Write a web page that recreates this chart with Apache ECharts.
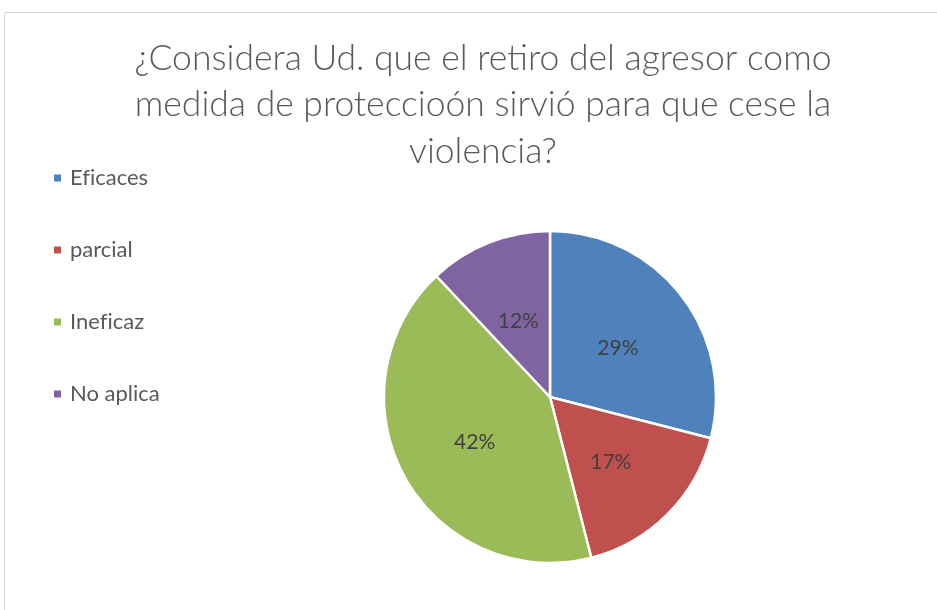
<!DOCTYPE html>
<html>
<head>
<meta charset="utf-8">
<script src="https://cdn.jsdelivr.net/npm/echarts@6/dist/echarts.min.js"></script>
<style>
  html, body { margin: 0; padding: 0; background: #fff; }
  #chart { width: 937px; height: 610px; }
</style>
</head>
<body>
<div id="chart"></div>
<script>
// datos del grafico
var categorias = ['Ef\u200Cicaces', 'parcial', 'Inef\u200Cicaz', 'No aplica'];
var valores = [29, 17, 42, 12];
var colores = ['#4f81bd', '#c0504d', '#9bbb59', '#8064a2'];
var titulo = '¿Considera Ud. que el retiro del agresor como\nmedida de proteccioón sirvió para que cese la\nviolencia?';

var myChart = echarts.init(document.getElementById('chart'));

function datos() {
    var arr = [];
    for (var i = 0; i < categorias.length; i++) {
        arr.push({ name: categorias[i], value: valores[i], itemStyle: { color: colores[i] } });
    }
    return arr;
}

var option = {
    animation: false,
    graphic: [{
        type: 'rect',
        shape: { x: 4.5, y: 12.5, width: 1000, height: 1000 },
        style: { fill: 'none', stroke: '#d9d9d9', lineWidth: 1 },
        silent: true
    }],
    title: {
        text: titulo,
        left: 478,
        top: 30,
        textAlign: 'center',
        textStyle: {
            fontFamily: 'Lato',
            fontWeight: 300,
            fontSize: 35.5,
            lineHeight: 46.5,
            color: '#595959'
        }
    },
    legend: {
        orient: 'vertical',
        left: 52,
        top: 167,
        padding: 0,
        itemGap: 50,
        itemWidth: 9,
        itemHeight: 9,
        icon: 'rect',
        textStyle: {
            fontFamily: 'Lato',
            fontSize: 22,
            lineHeight: 22,
            color: '#595959',
            padding: [0, 0, 0, 3]
        },
        data: categorias
    },
    series: [{
        type: 'pie',
        center: [550, 397],
        radius: 166,
        startAngle: 90,
        clockwise: true,
        itemStyle: { borderColor: '#fff', borderWidth: 2.5 },
        label: {
            position: 'inside',
            formatter: '{d}%',
            fontFamily: 'Lato',
            fontSize: 21,
            color: '#404040',
            offset: [0, 4]
        },
        labelLine: { show: false },
        emphasis: { disabled: true },
        data: datos()
    }]
};

myChart.setOption(option);
</script>
</body>
</html>
